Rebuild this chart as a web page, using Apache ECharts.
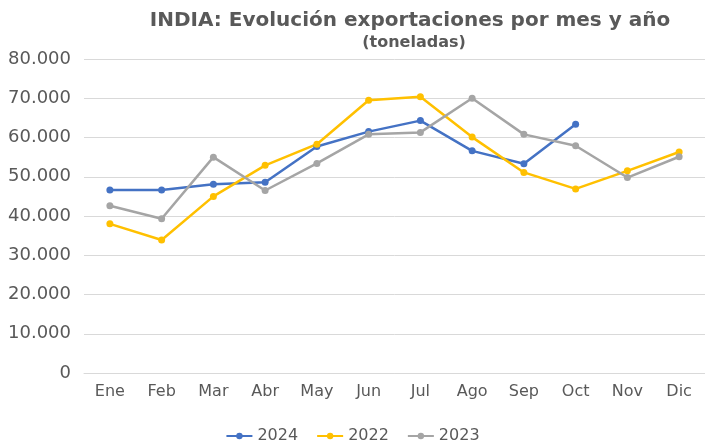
<!DOCTYPE html>
<html><head><meta charset="utf-8">
<script src="https://cdn.jsdelivr.net/npm/echarts@6/dist/echarts.min.js"></script>
<style>html,body{margin:0;padding:0;background:#fff}#c{width:705px;height:445px}</style>
</head><body><div id="c"></div>
<script>
const categories = ['Ene','Feb','Mar','Abr','May','Jun','Jul','Ago','Sep','Oct','Nov','Dic'];
const s2024 = [46600, 46600, 48100, 48600, 57700, 61500, 64300, 56600, 53300, 63400, null, null];
const s2022 = [38000, 33900, 45000, 52900, 58300, 69500, 70400, 60100, 51100, 46900, 51500, 56300];
const s2023 = [42600, 39300, 55000, 46500, 53400, 60800, 61300, 70000, 60800, 57900, 49800, 55100];
const yTicks = [0, 10000, 20000, 30000, 40000, 50000, 60000, 70000, 80000];

const txt = '#595959';
const font = 'DejaVu Sans';
function mk(name, data, color){
  return {name, type:'line', data, color, symbol:'circle', symbolSize:7,
    lineStyle:{width:2.5, color}, itemStyle:{color}, connectNulls:false};
}
const chart = echarts.init(document.getElementById('c'), null, {renderer:'canvas'});
chart.setOption({
  animation:false,
  backgroundColor:'#fff',
  title:[
    {text:'INDIA: Evolución exportaciones por mes y año', left:405, top:6, textAlign:'center',
     textStyle:{fontFamily:font, fontWeight:'bold', fontSize:20, color:txt}},
    {text:'(toneladas)', left:409, top:30, textAlign:'center',
     textStyle:{fontFamily:font, fontWeight:'bold', fontSize:16, color:txt}}
  ],
  legend:{bottom:-4, left:'center', itemWidth:26, itemHeight:8, itemGap:18,
    textStyle:{fontFamily:font, fontSize:16, color:txt},
    data:['2024','2022','2023']},
  grid:{left:84, top:59, width:632, bottom:72, containLabel:false},
  xAxis:{type:'category', data:categories, boundaryGap:true,
    axisLine:{show:true, lineStyle:{color:'#D9D9D9'}}, axisTick:{show:false},
    axisLabel:{fontFamily:font, fontSize:16, color:txt, margin:11}},
  yAxis:{type:'value', min:yTicks[0], max:yTicks[yTicks.length-1], interval:10000,
    axisLine:{show:false}, axisTick:{show:false},
    splitLine:{lineStyle:{color:'#D9D9D9', width:1}},
    axisLabel:{fontFamily:font, fontSize:18, color:txt, margin:13,
      formatter:v=>v===0?'0':v.toLocaleString('de-DE')}},
  series:[mk('2024', s2024, '#4472C4'), mk('2022', s2022, '#FFC000'), mk('2023', s2023, '#A5A5A5')]
});
</script></body></html>
